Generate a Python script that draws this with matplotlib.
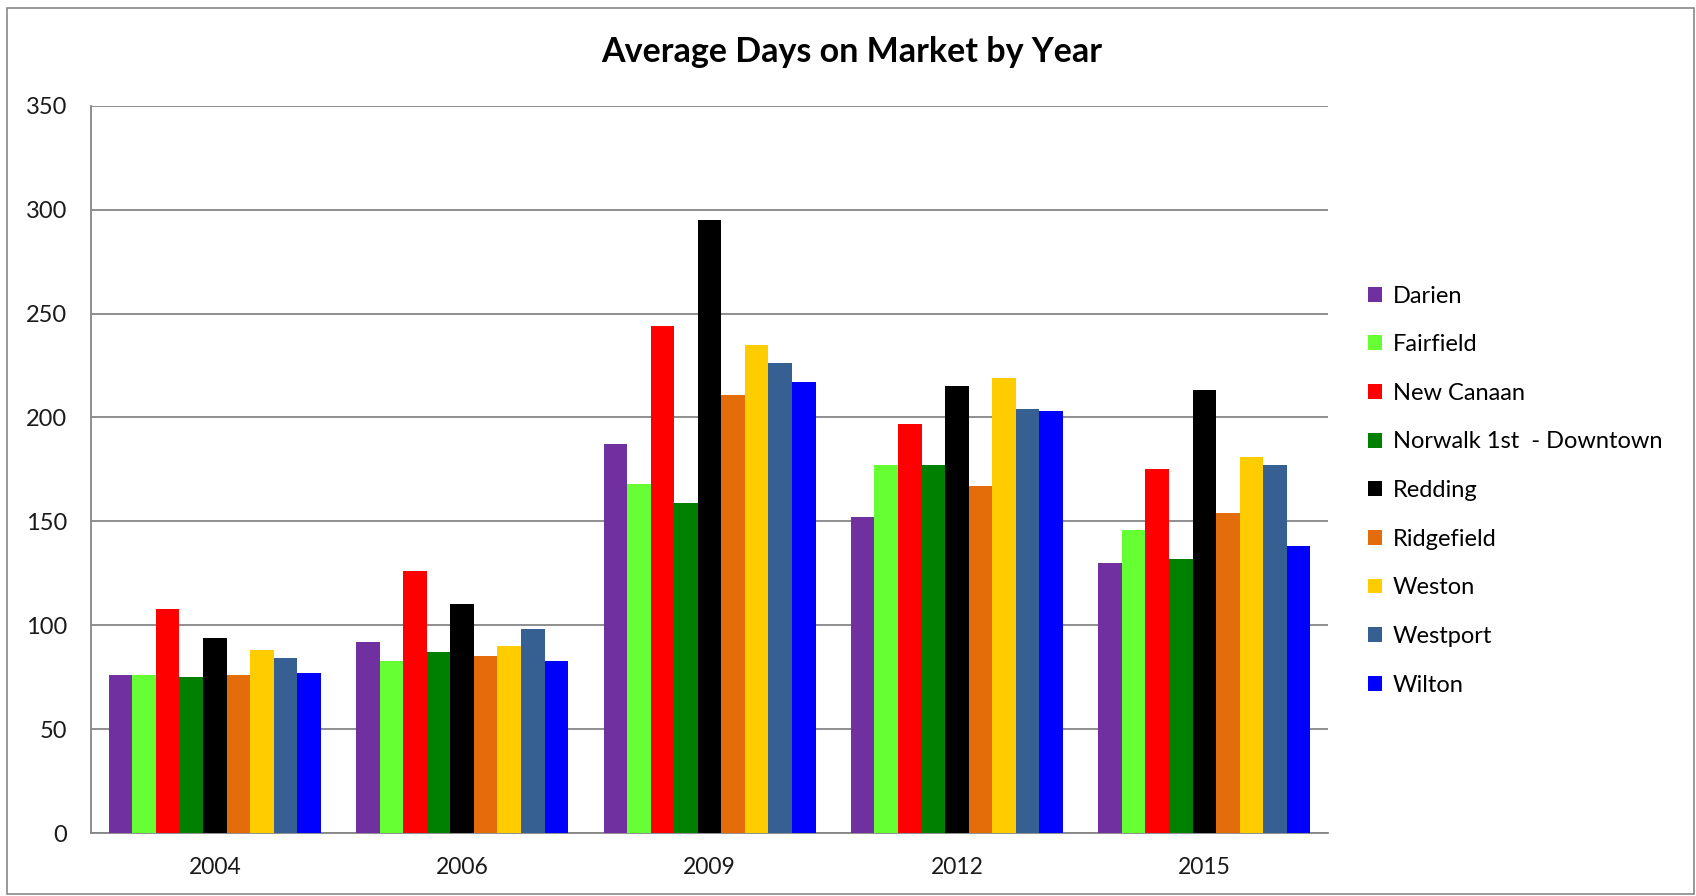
import numpy as np
import matplotlib
matplotlib.use("Agg")
from matplotlib import pyplot as plt
from matplotlib.patches import Rectangle

years = ["2004", "2006", "2009", "2012", "2015"]
towns = ["Darien", "Fairfield", "New Canaan", "Norwalk 1st  - Downtown", "Redding",
         "Ridgefield", "Weston", "Westport", "Wilton"]
colors = ["#7030A0", "#66FF33", "#FF0000", "#008000", "#000000",
          "#E46C0A", "#FFCC00", "#366092", "#0000FF"]

darien = [76, 92, 187, 152, 130]
fairfield = [76, 83, 168, 177, 146]
new_canaan = [108, 126, 244, 197, 175]
norwalk = [75, 87, 159, 177, 132]
redding = [94, 110, 295, 215, 213]
ridgefield = [76, 85, 211, 167, 154]
weston = [88, 90, 235, 219, 181]
westport = [84, 98, 226, 204, 177]
wilton = [77, 83, 217, 203, 138]
series = [darien, fairfield, new_canaan, norwalk, redding,
          ridgefield, weston, westport, wilton]

plt.rcParams['font.family'] = ['Lato', 'DejaVu Sans']

fig = plt.figure(figsize=(16.96, 8.96), dpi=100)
ax = fig.add_axes([0.0537, 0.0703, 0.7293, 0.8117])

x = np.arange(len(years))
group = 0.857
w = group / len(series)
for i, (vals, c, name) in enumerate(zip(series, colors, towns)):
    ax.bar(x - group / 2 + w * (i + 0.5), vals, width=w, color=c, label=name,
           linewidth=0, zorder=3)

ax.set_xlim(-0.5, len(years) - 0.5)
ax.set_ylim(0, 350)
ax.set_yticks(range(0, 351, 50))
ax.set_xticks(x)
ax.set_xticklabels(years)
ax.yaxis.grid(True, color="#868686", linewidth=1.3, zorder=0)
ax.tick_params(axis="y", length=0, pad=17, labelsize=17, labelcolor="#1a1a1a")
ax.tick_params(axis="x", length=0, pad=17, labelsize=16.5, labelcolor="#1a1a1a")
for s in ["top", "right"]:
    ax.spines[s].set_visible(False)
for s in ["left", "bottom"]:
    ax.spines[s].set_color("#868686")
    ax.spines[s].set_linewidth(1.3)

fig.text(0.502, 0.942, "Average Days on Market by Year", ha="center", va="center",
         fontsize=24.5, fontweight="bold")

leg = fig.legend(loc="upper left", bbox_to_anchor=(0.794, 0.705), frameon=False,
                 fontsize=17, handlelength=0.6, handleheight=0.6, handletextpad=0.45,
                 labelspacing=1.17)

fig.add_artist(Rectangle((0.004, 0.002), 0.995, 0.989, transform=fig.transFigure,
                         fill=False, edgecolor="#888888", linewidth=1.2))

fig.savefig("out.png", dpi=100)
